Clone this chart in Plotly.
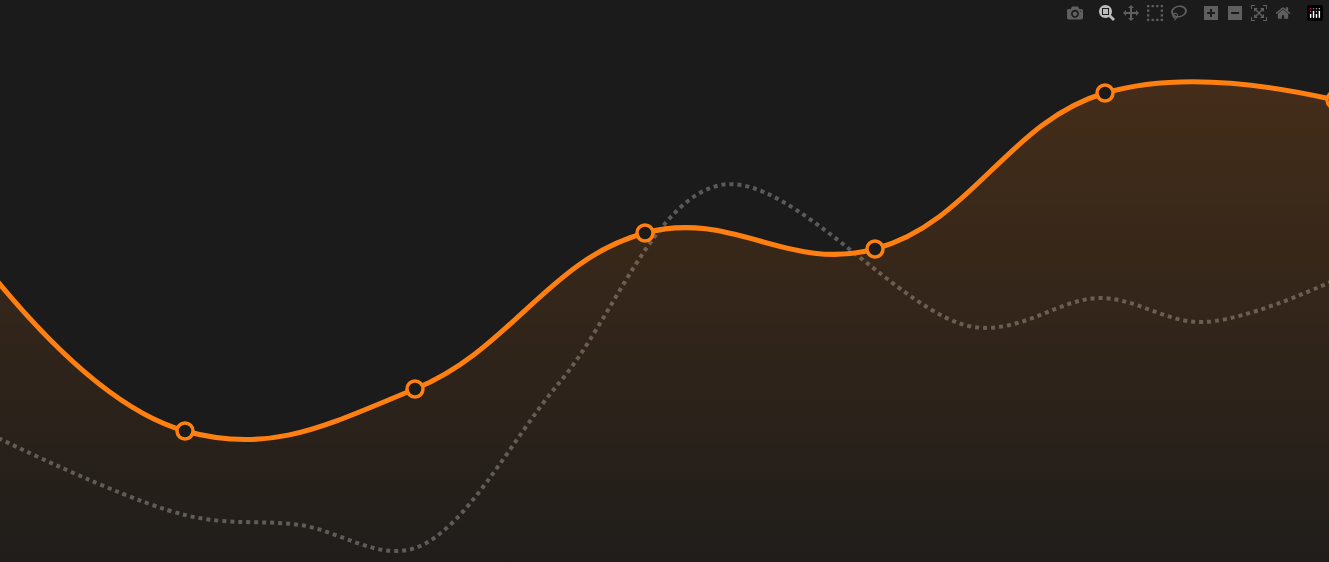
import plotly.graph_objects as go

main_x = [0, 1, 2, 3, 4, 5, 6]
main_y = [335, 131, 173, 329, 313, 469, 462]
ref_x = [0, 1, 1.5, 2, 2.63, 3.33, 4.43, 4.98, 5.43, 6]
ref_y = [145, 47, 37, 14, 180, 377, 235, 264, 240, 282]

fig = go.Figure()
fig.add_trace(go.Scatter(x=ref_x, y=ref_y, mode="lines",
    line=dict(color="#5a5a5a", width=4, dash="dot", shape="spline", smoothing=1.0),
    hoverinfo="skip"))
fig.add_trace(go.Scatter(x=main_x, y=main_y, mode="lines+markers",
    line=dict(color="#ff7f11", width=5, shape="spline", smoothing=1.2),
    marker=dict(size=16, color="#1b1b1b", line=dict(color="#ff7f11", width=3.5)),
    fill="tozeroy",
    fillgradient=dict(type="vertical",
        colorscale=[[0, "rgba(255,127,17,0.02)"], [1, "rgba(255,127,17,0.18)"]])))
fig.update_layout(
    width=1329, height=562, margin=dict(l=0, r=0, t=0, b=0),
    paper_bgcolor="#1b1b1b", plot_bgcolor="#1b1b1b", showlegend=False,
    xaxis=dict(range=[45/230, 1374/230], visible=False),
    yaxis=dict(range=[0, 562], visible=False),
)
fig.write_html("out.html")
with open("out.html", encoding="utf-8") as f:
    html = f.read()
html = html.replace("<head>", "<head><style>html,body{margin:0;padding:0;background:#1b1b1b;overflow:hidden}</style>", 1)
with open("out.html", "w", encoding="utf-8") as f:
    f.write(html)
